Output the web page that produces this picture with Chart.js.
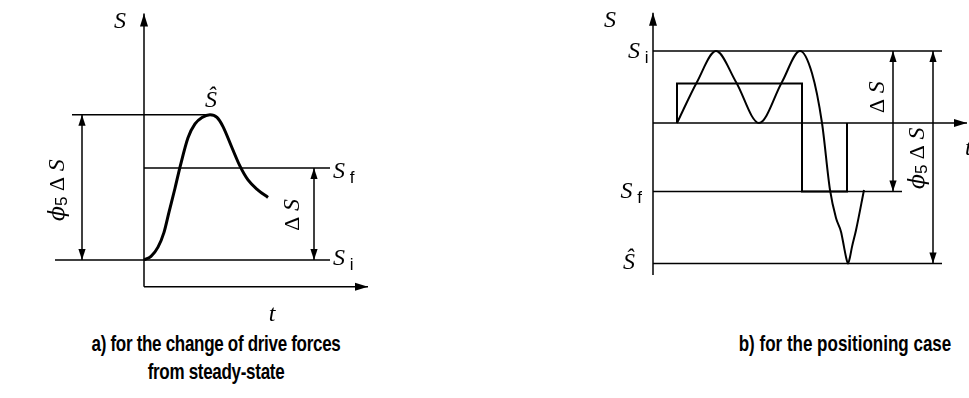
<!DOCTYPE html>
<html>
<head>
<meta charset="utf-8">
<script src="https://cdn.jsdelivr.net/npm/chart.js@4.4.1/dist/chart.umd.min.js"></script>
<style>
  body { margin: 0; background: #fff; width: 969px; height: 398px; overflow: hidden; position: relative;
         font-family: "Liberation Sans", Arial, sans-serif; }
  canvas { position: absolute; top: 0; }
  #cvA { left: 44px; }
  #cvB { left: 590px; }
  .cap { position: absolute; width: 320px; font-weight: bold; font-size: 17px; line-height: 22px;
         text-align: center; color: #000; transform: scaleY(1.25); transform-origin: top; }
</style>
</head>
<body>
<canvas id="cvA" width="350" height="330"></canvas>
<canvas id="cvB" width="379" height="330"></canvas>
<div class="cap" style="left:56px;top:331px;letter-spacing:-0.3px">a) for the change of drive forces<br>from steady-state</div>
<div class="cap" style="left:685px;top:331px">b) for the positioning case</div>
<script>
// --- a) step response: t / S samples (Si = 0, Sf = 1) ---
const A_T = [0, 0.28, 0.56, 0.80, 1.00, 1.24, 1.44, 1.76, 2.04, 2.32, 2.64, 2.92, 3.16, 3.52, 3.84, 4.16, 4.56, 4.96];
const A_S = [0, 0.04, 0.14, 0.30, 0.52, 0.78, 1.01, 1.33, 1.48, 1.55, 1.58, 1.55, 1.45, 1.22, 1.02, 0.87, 0.76, 0.68];
const A_SI = 0;
const A_SF = 1;
const A_SHAT = 1.58;

// --- b) positioning case: oscillation + command step ---
const B_T = [0.96, 1.76, 2.52, 3.32, 4.24, 5.16, 5.88, 6.36, 6.76, 7.08, 7.32, 7.52, 7.64, 7.72, 7.8, 7.88, 7.96, 8.12, 8.44];
const B_S = [0, 0.57, 1.0, 0.57, 0, 0.57, 1.0, 0.69, 0, -0.93, -1.32, -1.51, -1.72, -1.86, -1.95, -1.86, -1.72, -1.49, -0.93];
const B_STEP_T = [0.96, 0.96, 5.96, 5.96, 7.76, 7.76];
const B_STEP_S = [0, 0.55, 0.55, -0.95, -0.95, 0];
const B_SI = 1;
const B_SF = -0.95;
const B_SHAT = -1.95;

const SERIF_I = 'italic 24px "Liberation Serif", "DejaVu Serif", serif';
const SERIF = '22px "Liberation Serif", "DejaVu Serif", serif';
const SUB = '17px "Liberation Sans", Arial, sans-serif';
const PHI = 'italic 22px "DejaVu Serif", "Liberation Serif", serif';

const pts = (ts, ss) => ts.map((t, i) => ({ x: t, y: ss[i] }));
const hline = (s, t0, t1) => [{ x: t0, y: s }, { x: t1, y: s }];

const dimRuns = [{ t: 'Δ', f: SERIF }, { t: ' ', f: SERIF }, { t: 'S', f: SERIF_I }];
const phiRuns = [{ t: 'ϕ', f: PHI }, { t: '5', f: SUB, dy: 4 }, { t: ' Δ ', f: SERIF }, { t: 'S', f: SERIF_I }];
const sub = (s) => [{ t: 'S', f: SERIF_I }, { t: ' ', f: SUB }, { t: s, f: SUB, dy: 5 }];

function head(ctx, x, y, ang, len, half) {
  const c = Math.cos(ang), s = Math.sin(ang);
  ctx.beginPath();
  ctx.moveTo(x, y);
  ctx.lineTo(x - len * c + half * s, y - len * s - half * c);
  ctx.lineTo(x - len * c - half * s, y - len * s + half * c);
  ctx.closePath();
  ctx.fill();
}

function drawRuns(ctx, runs, x, y, align, rot) {
  ctx.save();
  ctx.translate(x, y);
  if (rot) ctx.rotate(rot);
  let w = 0;
  runs.forEach(r => { ctx.font = r.f; w += ctx.measureText(r.t).width; });
  let cx = align === 'center' ? -w / 2 : 0;
  ctx.textAlign = 'left';
  ctx.textBaseline = rot ? 'middle' : 'alphabetic';
  runs.forEach(r => {
    ctx.font = r.f;
    ctx.fillText(r.t, cx, r.dy || 0);
    cx += ctx.measureText(r.t).width;
  });
  ctx.restore();
}

// arrows (axes + dimension lines) and labels, placed in data units
const annotate = {
  id: 'annotate',
  afterDatasetsDraw(chart, args, opts) {
    const { ctx, scales: { x, y } } = chart;
    ctx.save();
    ctx.fillStyle = '#000';
    ctx.strokeStyle = '#000';
    (opts.arrows || []).forEach(a => {
      const x0 = x.getPixelForValue(a.x0), y0 = y.getPixelForValue(a.y0);
      const x1 = x.getPixelForValue(a.x1), y1 = y.getPixelForValue(a.y1);
      const ang = Math.atan2(y1 - y0, x1 - x0);
      ctx.lineWidth = a.w || 1.5;
      ctx.beginPath();
      ctx.moveTo(x0, y0);
      ctx.lineTo(x1, y1);
      ctx.stroke();
      head(ctx, x1, y1, ang, a.len || 11, a.half || 3.6);
      if (a.both) head(ctx, x0, y0, ang + Math.PI, a.len || 11, a.half || 3.6);
    });
    (opts.labels || []).forEach(l => {
      drawRuns(ctx, l.runs, x.getPixelForValue(l.x), y.getPixelForValue(l.y), l.align, l.rot);
    });
    ctx.restore();
  }
};

function makePanel(id, range, datasets, arrows, labels) {
  return new Chart(document.getElementById(id), {
    type: 'scatter',
    data: { datasets },
    options: {
      responsive: false,
      animation: false,
      layout: { padding: 0 },
      elements: { point: { radius: 0, hoverRadius: 0 } },
      plugins: { legend: { display: false }, tooltip: { enabled: false }, annotate: { arrows, labels } },
      scales: {
        x: { type: 'linear', display: false, min: range[0], max: range[1] },
        y: { type: 'linear', display: false, min: range[2], max: range[3] }
      }
    },
    plugins: [annotate]
  });
}

const line = (data, w) => ({ data, showLine: true, borderColor: '#000', borderWidth: w, tension: 0, fill: false });
const curve = (data, w) => ({ data, showLine: true, borderColor: '#000', borderWidth: w,
  cubicInterpolationMode: 'monotone', fill: false });

// --- panel a ---
makePanel('cvA', [-4, 10, -70 / 92, 260 / 92], [
  line(hline(A_SI, -3.56, 7.44), 1.5),
  line(hline(A_SF, 0, 7.44), 1.5),
  line(hline(A_SHAT, -2.88, 2.64), 1.5),
  curve(pts(A_T, A_S), 3)
], [
  { x0: 0, y0: -0.29, x1: 0, y1: 2.68, len: 13, half: 4 },
  { x0: 0, y0: -0.29, x1: 8.96, y1: -0.29, len: 13, half: 4 },
  { x0: -2.48, y0: A_SI, x1: -2.48, y1: A_SHAT, both: true },
  { x0: 6.8, y0: A_SI, x1: 6.8, y1: A_SF, both: true }
], [
  { x: -1.2, y: 2.52, runs: [{ t: 'S', f: SERIF_I }] },
  { x: 2.68, y: 1.66, runs: [{ t: 'Ŝ', f: SERIF_I }], align: 'center' },
  { x: 7.56, y: 0.89, runs: sub('f') },
  { x: 7.56, y: -0.05, runs: sub('i') },
  { x: 5.12, y: -0.66, runs: [{ t: 't', f: SERIF_I }], align: 'center' },
  { x: 5.96, y: 0.49, runs: dimRuns, align: 'center', rot: -Math.PI / 2 },
  { x: -3.44, y: 0.76, runs: phiRuns, align: 'center', rot: -Math.PI / 2 }
]);

// --- panel b ---
makePanel('cvB', [-2.52, 12.64, -207 / 72, 123 / 72], [
  line(hline(B_SI, 0, 11.56), 1.5),
  line(hline(B_SF, 0, 9.96), 1.5),
  line(hline(B_SHAT, 0, 11.56), 1.5),
  line(pts(B_STEP_T, B_STEP_S), 2),
  curve(pts(B_T, B_S), 2)
], [
  { x0: 0, y0: -2.11, x1: 0, y1: 1.53, len: 13, half: 4 },
  { x0: 0, y0: 0, x1: 12.56, y1: 0, len: 13, half: 4 },
  { x0: 9.6, y0: B_SI, x1: 9.6, y1: B_SF, both: true },
  { x0: 11.2, y0: B_SI, x1: 11.2, y1: B_SHAT, both: true }
], [
  { x: -1.96, y: 1.33, runs: [{ t: 'S', f: SERIF_I }] },
  { x: -1.0, y: 0.9, runs: sub('i') },
  { x: -1.3, y: -1.04, runs: sub('f') },
  { x: -0.96, y: -2.03, runs: [{ t: 'Ŝ', f: SERIF_I }], align: 'center' },
  { x: 12.48, y: -0.44, runs: [{ t: 't', f: SERIF_I }] },
  { x: 9.0, y: 0.36, runs: dimRuns, align: 'center', rot: -Math.PI / 2 },
  { x: 10.6, y: -0.49, runs: phiRuns, align: 'center', rot: -Math.PI / 2 }
]);
</script>
</body>
</html>
